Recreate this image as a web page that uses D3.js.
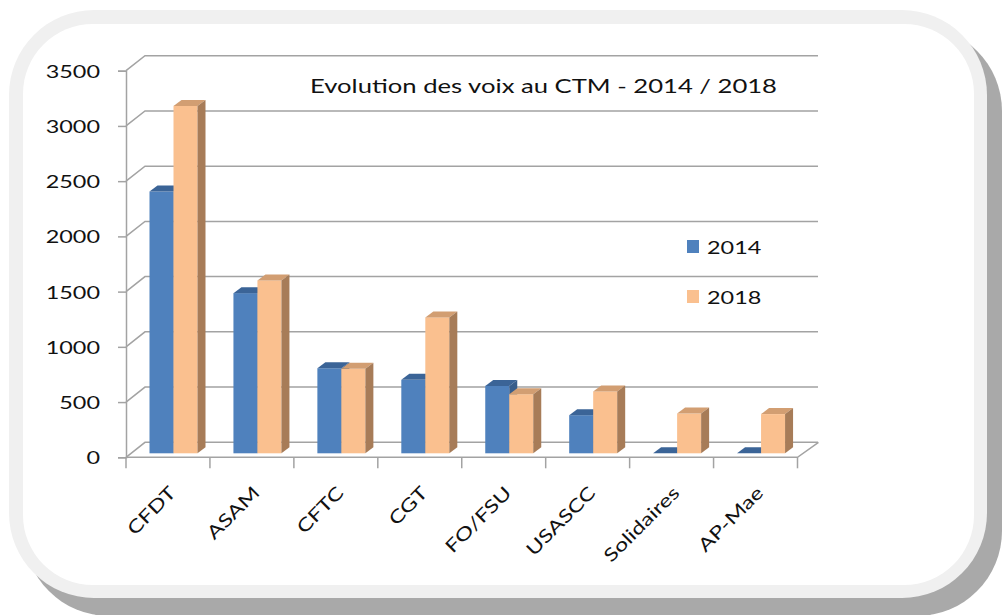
<!DOCTYPE html>
<html>
<head>
<meta charset="utf-8">
<script src="https://cdn.jsdelivr.net/npm/d3@7"></script>
<style>
  body { margin: 0; background: #fff; }
  text { font-family: Lato, "Open Sans", sans-serif; fill: #111; }
</style>
</head>
<body>
<div id="chart"></div>
<script>
// data
const categories = ["CFDT", "ASAM", "CFTC", "CGT", "FO/FSU", "USASCC", "Solidaires", "AP-Mae"];
const seriesNames = ["2014", "2018"];
const values2014 = [2370, 1450, 770, 665, 610, 345, 0, 0];
const values2018 = [3145, 1565, 765, 1230, 535, 560, 360, 355];
const yTicks = [0, 500, 1000, 1500, 2000, 2500, 3000, 3500];
const title = "Evolution des voix au CTM - 2014  / 2018";

const W = 1004, H = 615;
const colors = {
  "2014": { front: "#4f81bd", top: "#3b6497", side: "#375d8b" },
  "2018": { front: "#fac08f", top: "#d29e72", side: "#a77c58" }
};

const svg = d3.select("#chart").append("svg")
  .attr("width", W).attr("height", H);

// frame with shadow
svg.append("rect").attr("x", 24).attr("y", 26).attr("width", 978).attr("height", 590)
  .attr("rx", 85).attr("fill", "#a9a9a9");
svg.append("rect").attr("x", 9).attr("y", 10).attr("width", 978).attr("height", 588)
  .attr("rx", 85).attr("fill", "#f0f0f0");
svg.append("rect").attr("x", 23).attr("y", 24).attr("width", 951).attr("height", 561)
  .attr("rx", 70).attr("fill", "#fff");

// scales
const x = d3.scaleBand().domain(categories).range([126, 797.5]).padding(0);
const y = d3.scaleLinear().domain([0, 3500]).range([457.3, 70.7]);
const depth = { dx: 19, dy: -15 };     // front -> back wall
const barShift = { dx: 5, dy: -4 };    // front -> bar front face
const barDepth = { dx: 8, dy: -6 };    // bar thickness
const xs = d3.scaleBand().domain(seriesNames).range([0, 48]);
const barOffset = 23.5;
const rightBack = 818;

const grid = svg.append("g").attr("stroke", "#a3a3a3").attr("stroke-width", 1.5).attr("fill", "none");

// gridlines: side wall diagonal + back wall horizontal
yTicks.forEach(t => {
  const yy = y(t);
  grid.append("path")
    .attr("d", `M${x.range()[0]},${yy} L${x.range()[0] + depth.dx},${yy + depth.dy} L${rightBack},${yy + depth.dy}`);
});

// floor
const fl = x.range()[0], fr = x.range()[1];
grid.append("path")
  .attr("d", `M${fl},${y(0)} L${fr},${y(0)} L${fr + depth.dx + 2},${y(0) + depth.dy}`);

// y axis
const yAxis = svg.append("g")
  .attr("transform", `translate(${fl},0)`)
  .call(d3.axisLeft(y).tickValues(yTicks).tickSize(8).tickPadding(18).tickFormat(d3.format("d")));
yAxis.select(".domain").attr("stroke", "#a3a3a3").attr("stroke-width", 1.5);
yAxis.selectAll(".tick line").attr("stroke", "#a3a3a3").attr("stroke-width", 1.5);
yAxis.selectAll(".tick text")
  .style("font-size", "18px").attr("fill", "#111").attr("font-family", "Lato, sans-serif")
  .attr("dy", "0.36em");

// x axis ticks
const xAxis = svg.append("g")
  .attr("transform", `translate(0,${y(0)})`)
  .call(d3.axisBottom(x).tickSize(0).tickFormat(""));
xAxis.select(".domain").remove();
const bounds = categories.map(c => x(c)).concat([fr]);
xAxis.selectAll(".xt").data(bounds).enter().append("line")
  .attr("x1", d => d).attr("x2", d => d).attr("y1", 0).attr("y2", 11)
  .attr("stroke", "#a3a3a3").attr("stroke-width", 1.5);

// x labels
svg.append("g").selectAll("text").data(categories).enter().append("text")
  .attr("transform", d => `translate(${x(d) + x.bandwidth() / 2 + 9},494) rotate(-45)`)
  .attr("text-anchor", "end")
  .style("font-size", "18px")
  .text(d => d);

// bars
const bars = svg.append("g");
const y0 = y(0) + barShift.dy;
categories.forEach((c, i) => {
  const vals = { "2014": values2014[i], "2018": values2018[i] };
  seriesNames.forEach(s => {
    const v = vals[s];
    const bx = x(c) + barOffset + xs(s);
    const bw = xs.bandwidth();
    const yt = y(v) + barShift.dy;
    const col = colors[s];
    bars.append("rect")
      .attr("x", bx).attr("y", yt).attr("width", bw).attr("height", y0 - yt)
      .attr("fill", col.front);
    bars.append("polygon")
      .attr("points", [[bx, yt], [bx + bw, yt], [bx + bw + barDepth.dx, yt + barDepth.dy], [bx + barDepth.dx, yt + barDepth.dy]].join(" "))
      .attr("fill", col.top);
    bars.append("polygon")
      .attr("points", [[bx + bw, yt], [bx + bw + barDepth.dx, yt + barDepth.dy], [bx + bw + barDepth.dx, y0 + barDepth.dy], [bx + bw, y0]].join(" "))
      .attr("fill", col.side);
  });
});

// title
svg.append("text")
  .attr("x", 310).attr("y", 93)
  .style("font-size", "19px")
  .attr("textLength", 467).attr("lengthAdjust", "spacingAndGlyphs")
  .text(title);

// legend
const legend = svg.append("g");
seriesNames.forEach((s, i) => {
  legend.append("rect").attr("x", 687).attr("y", 240 + i * 50).attr("width", 12).attr("height", 13)
    .attr("fill", colors[s].front);
  legend.append("text").attr("x", 707).attr("y", 254 + i * 50)
    .style("font-size", "18px").text(s);
});

// widen text like the reference (horizontally stretched rendering)
svg.selectAll("text").each(function() {
  const t = d3.select(this);
  if (t.attr("textLength")) return;
  const len = this.getComputedTextLength();
  t.attr("textLength", len * 1.3).attr("lengthAdjust", "spacingAndGlyphs");
});
</script>
</body>
</html>
